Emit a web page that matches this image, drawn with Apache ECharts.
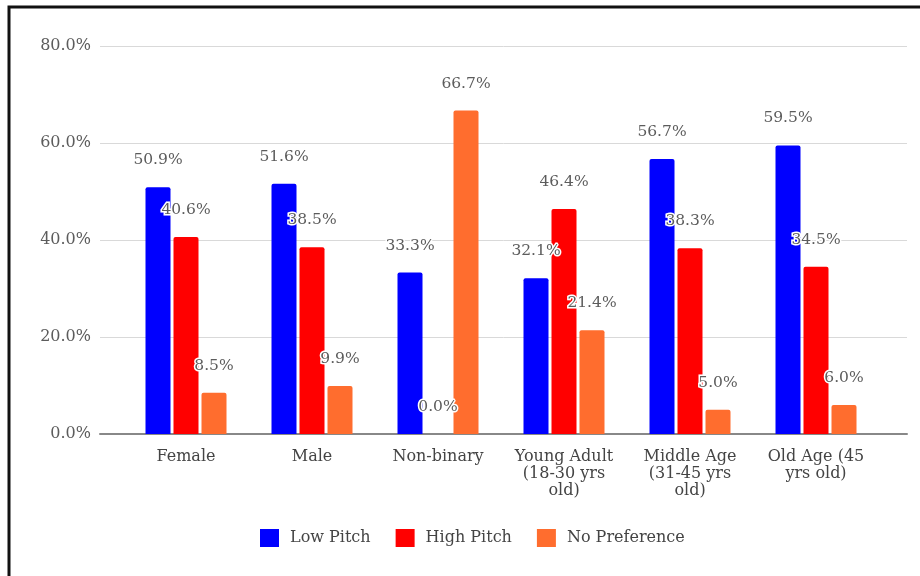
<!DOCTYPE html>
<html>
<head>
<meta charset="utf-8">
<style>
  html, body { margin: 0; padding: 0; background: #ffffff; }
  #chart { width: 920px; height: 576px; }
</style>
<script src="https://cdn.jsdelivr.net/npm/echarts@6/dist/echarts.min.js"></script>
</head>
<body>
<div id="chart"></div>
<script>
// Pitch preference by group (percent of respondents)
const categories = [
  'Female',
  'Male',
  'Non-binary',
  'Young Adult\n(18-30 yrs\nold)',
  'Middle Age\n(31-45 yrs\nold)',
  'Old Age (45\nyrs old)'
];
const lowPitch  = [50.9, 51.6, 33.3, 32.1, 56.7, 59.5];
const highPitch = [40.6, 38.5, 0.0, 46.4, 38.3, 34.5];
const noPref    = [8.5, 9.9, 66.7, 21.4, 5.0, 6.0];
const yTicks = { min: 0, max: 80, interval: 20 };

const FONT = '"DejaVu Serif", "Liberation Serif", serif';
const colors = ['#0000ff', '#ff0000', '#ff6d2e'];

function barSeries(name, values, color) {
  return {
    name: name,
    type: 'bar',
    xAxisIndex: 1,
    yAxisIndex: 1,
    data: values,
    barWidth: 25,
    barGap: '12%',
    itemStyle: { color: color, borderRadius: [2, 2, 0, 0] },
    label: {
      show: true,
      position: 'top',
      distance: 19,
      fontFamily: FONT,
      fontSize: 15.5,
      color: '#5c5c5c',
      textBorderColor: '#ffffff',
      textBorderWidth: 3,
      formatter: p => p.value.toFixed(1) + '%'
    }
  };
}

const chart = echarts.init(document.getElementById('chart'));
chart.setOption({
  animation: false,
  backgroundColor: '#ffffff',
  textStyle: { fontFamily: FONT },
  grid: [
    // wide frame carrying the gridlines and percent labels
    { left: 100, right: 13, top: 46, height: 388 },
    // plot band holding the bars
    { left: 123, right: 41, top: 46, height: 388 }
  ],
  xAxis: [
    {
      gridIndex: 0,
      type: 'category',
      data: [''],
      axisLine: { show: true, lineStyle: { color: '#888888', width: 2 } },
      axisTick: { show: false },
      axisLabel: { show: false }
    },
    {
      gridIndex: 1,
      type: 'category',
      data: categories,
      axisLine: { show: false },
      axisTick: { show: false },
      axisLabel: {
        interval: 0,
        margin: 14,
        fontFamily: FONT,
        fontSize: 16,
        lineHeight: 17,
        color: '#444444'
      }
    }
  ],
  yAxis: [
    {
      gridIndex: 0,
      type: 'value',
      min: yTicks.min,
      max: yTicks.max,
      interval: yTicks.interval,
      axisLine: { show: false },
      axisTick: { show: false },
      axisLabel: {
        margin: 9,
        fontFamily: FONT,
        fontSize: 16,
        color: '#5c5c5c',
        formatter: v => v.toFixed(1) + '%'
      },
      splitLine: { lineStyle: { color: '#d9d9d9', width: 1 } }
    },
    {
      gridIndex: 1,
      type: 'value',
      min: yTicks.min,
      max: yTicks.max,
      interval: yTicks.interval,
      show: false,
      splitLine: { show: false }
    }
  ],
  legend: {
    bottom: 24,
    left: 255,
    itemWidth: 19,
    itemHeight: 18,
    itemGap: 25,
    icon: 'rect',
    textStyle: { fontFamily: FONT, fontSize: 16, color: '#444444', padding: [0, 0, 0, 6] },
    data: ['Low Pitch', 'High Pitch', 'No Preference']
  },
  graphic: [
    {
      type: 'polyline',
      silent: true,
      shape: { points: [[9, 576], [9, 7], [920, 7]] },
      style: { stroke: '#111111', lineWidth: 3, fill: null }
    }
  ],
  series: [
    barSeries('Low Pitch', lowPitch, colors[0]),
    barSeries('High Pitch', highPitch, colors[1]),
    barSeries('No Preference', noPref, colors[2])
  ]
});
</script>
</body>
</html>
